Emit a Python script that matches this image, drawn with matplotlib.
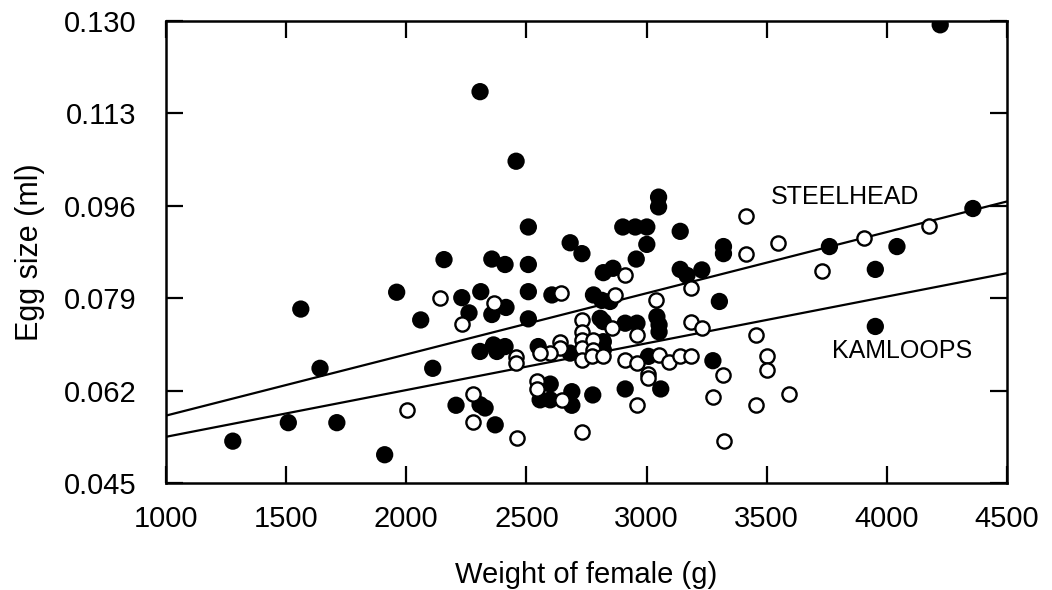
import matplotlib
matplotlib.use("Agg")
import matplotlib.pyplot as plt

# Steelhead (filled circles)
steel_x = [1278, 1509, 1561, 1641, 1711, 1910, 1960, 2060, 2110, 2157,
           2207, 2231, 2261, 2307, 2310, 2356, 2415, 2457, 2508, 2682,
           2731, 2356, 2411, 2508, 2901, 2953, 3001, 3050, 3050, 3140,
           3001, 3320, 3320, 2957, 3140, 3168, 3230, 2820, 2860, 3303,
           2508, 2606, 2779, 2814, 2848, 2508, 2807, 2820, 2911, 2960,
           3043, 3052, 3052, 2307, 2363, 2377, 2411, 2549, 2682, 2820,
           2820, 3008, 3276, 2599, 2557, 2599, 2689, 2689, 2776, 2911,
           3059, 2307, 2328, 2370, 3952, 3952, 3761, 4042, 4358, 4222]
steel_y = [0.0527, 0.0561, 0.0770, 0.0661, 0.0561, 0.0502, 0.0801, 0.0750, 0.0661, 0.0861,
           0.0593, 0.0791, 0.0763, 0.1170, 0.0802, 0.0760, 0.0773, 0.1042, 0.0921, 0.0892,
           0.0872, 0.0862, 0.0852, 0.0852, 0.0921, 0.0921, 0.0921, 0.0976, 0.0958, 0.0913,
           0.0889, 0.0885, 0.0872, 0.0862, 0.0843, 0.0832, 0.0842, 0.0837, 0.0845, 0.0784,
           0.0802, 0.0796, 0.0796, 0.0786, 0.0784, 0.0752, 0.0753, 0.0747, 0.0744, 0.0744,
           0.0756, 0.0741, 0.0728, 0.0692, 0.0704, 0.0692, 0.0701, 0.0701, 0.0689, 0.0710,
           0.0695, 0.0683, 0.0675, 0.0632, 0.0603, 0.0603, 0.0618, 0.0593, 0.0612, 0.0623,
           0.0623, 0.0594, 0.0588, 0.0557, 0.0843, 0.0738, 0.0885, 0.0885, 0.0955, 0.1293]

# Kamloops (open circles)
kam_x = [2005, 2141, 2231, 2366, 2457, 2457, 2279, 2279, 2460, 2643,
         2869, 2911, 3040, 3184, 3413, 3545, 3413, 3730, 3906, 4174,
         2731, 2731, 2731, 2731, 2731, 2779, 2779, 2772, 2820, 2855,
         2960, 2640, 2640, 2599, 2557, 2911, 2960, 3050, 3095, 3140,
         3184, 3184, 3230, 3456, 3501, 3501, 3320, 3004, 3004, 3276,
         3591, 2960, 3456, 3323, 2731, 2545, 2545, 2647]
kam_y = [0.0585, 0.0791, 0.0742, 0.0782, 0.0681, 0.0670, 0.0613, 0.0562, 0.0533, 0.0799,
         0.0796, 0.0832, 0.0786, 0.0809, 0.0941, 0.0891, 0.0872, 0.0840, 0.0900, 0.0923,
         0.0750, 0.0728, 0.0713, 0.0698, 0.0676, 0.0713, 0.0695, 0.0683, 0.0683, 0.0735,
         0.0722, 0.0710, 0.0699, 0.0689, 0.0689, 0.0676, 0.0670, 0.0686, 0.0672, 0.0683,
         0.0683, 0.0746, 0.0735, 0.0723, 0.0683, 0.0658, 0.0649, 0.0650, 0.0643, 0.0609,
         0.0613, 0.0593, 0.0593, 0.0528, 0.0544, 0.0637, 0.0623, 0.0603]

# Regression lines (end values)
line_x = [1000, 4500]
steel_line = [0.0574, 0.0968]
kam_line = [0.0535, 0.0836]

x_ticks = [1000, 1500, 2000, 2500, 3000, 3500, 4000, 4500]
y_ticks = [0.045, 0.062, 0.079, 0.096, 0.113, 0.130]
y_tick_labels = ["0.045", "0.062", "0.079", "0.096", "0.113", "0.130"]

plt.rcParams['font.family'] = ['Liberation Sans', 'DejaVu Sans']

fig = plt.figure(figsize=(10.52, 5.90), dpi=100)
ax = fig.add_axes([166 / 1052, 1 - 483 / 590, (1007 - 166) / 1052, (483 - 21) / 590])

ax.plot(line_x, steel_line, color='black', lw=1.6, zorder=2)
ax.plot(line_x, kam_line, color='black', lw=1.6, zorder=2)
ax.scatter(steel_x, steel_y, s=155, c='black', edgecolors='none', zorder=3)
ax.scatter(kam_x, kam_y, s=105, facecolors='white', edgecolors='black', linewidths=1.7, zorder=4)

ax.set_xlim(1000, 4500)
ax.set_ylim(0.045, 0.130)
ax.set_xticks(x_ticks)
ax.set_xticklabels([str(v) for v in x_ticks])
ax.set_yticks(y_ticks)
ax.set_yticklabels(y_tick_labels)

ax.tick_params(direction='in', length=12, width=1.6, top=True, right=True,
               labelsize=21, colors='black')
ax.tick_params(axis='x', pad=16)
ax.tick_params(axis='y', pad=21)
for sp in ax.spines.values():
    sp.set_linewidth(1.8)

ax.set_xlabel("Weight of female (g)", fontsize=21, labelpad=20)
ax.set_ylabel("Egg size (ml)", fontsize=22, labelpad=14)

ax.text(3515, 0.0977, "STEELHEAD", fontsize=18, ha='left', va='center')
ax.text(3773, 0.0693, "KAMLOOPS", fontsize=18, ha='left', va='center')

fig.savefig("out.png", dpi=100)
